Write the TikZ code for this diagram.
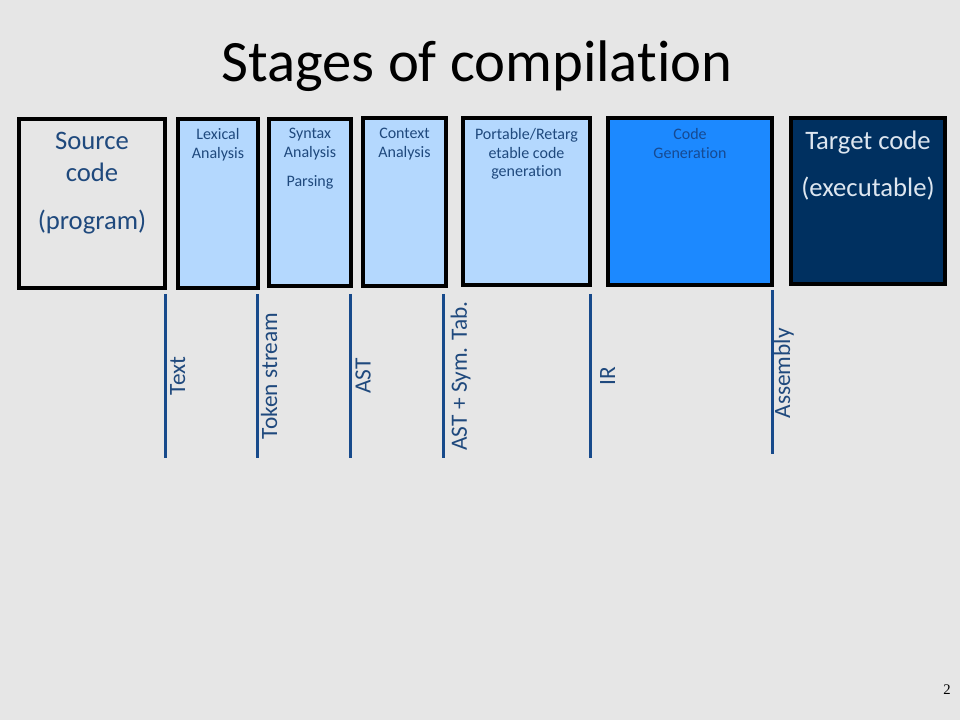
\documentclass[tikz,border=0pt]{standalone}
\usepackage{fontspec}
\setmainfont{Carlito}[RawFeature=-liga]
\newfontfamily\pagefont{Liberation Serif}
\usetikzlibrary{positioning}
\definecolor{slidebg}{HTML}{E6E6E6}
\definecolor{paleblue}{HTML}{B4D8FE}
\definecolor{brightblue}{HTML}{1C89FF}
\definecolor{navy}{HTML}{003060}
\definecolor{inkblue}{HTML}{1F497D}
\definecolor{genblue}{HTML}{164A92}
\definecolor{flowblue}{HTML}{174A8B}
\definecolor{paleink}{HTML}{DDE6F0}
\tikzset{
stage/.style={draw=black,line width=3pt,rectangle,inner sep=0pt,outer sep=0pt},
boxsize/.style 2 args={minimum width=#1*0.75pt,minimum height=#2*0.75pt},
bigtext/.style={inner sep=0pt,align=center,text=inkblue,font=\fontsize{20}{24}\selectfont},
smalltext/.style={inner sep=0pt,align=center,text=inkblue,font=\fontsize{12}{14}\selectfont},
flow/.style={draw=flowblue,line width=2.25pt},
flowlabel/.style={inner sep=0pt,rotate=90,anchor=base,text=inkblue,font=\fontsize{17.5}{21}\selectfont}
}
\begin{document}
\begin{tikzpicture}[x=0.75pt,y=-0.75pt]
\fill[slidebg] (0,0) rectangle (960,720);
\useasboundingbox (0,0) rectangle (960,720);

\node[font=\fontsize{44}{53}\selectfont,inner sep=0pt,anchor=base] (title) at (477,82) {Stages of compilation};

% stages
\node[stage,boxsize={146}{169}]                 (src)  at (92,203.5)  {};
\node[stage,fill=paleblue,boxsize={80}{169}]    (lex)  at (218,203.5) {};
\node[stage,fill=paleblue,boxsize={82}{167}]    (syn)  at (310,202.5) {};
\node[stage,fill=paleblue,boxsize={83}{168}]    (ctx)  at (404.5,202) {};
\node[stage,fill=paleblue,boxsize={127}{167}]   (port) at (526.5,201.5) {};
\node[stage,fill=brightblue,boxsize={164}{167}] (gen)  at (690,201.5) {};
\node[stage,fill=navy,boxsize={154}{166}]       (tgt)  at (868,201)   {};

\node[bigtext]             (srctext)  [below=9.75pt of src.north]  {Source\\code\\[12pt](program)};
\node[smalltext]           (lextext)  [below=6.75pt of lex.north]  {Lexical\\Analysis};
\node[smalltext]           (syntext)  [below=6.75pt of syn.north]  {Syntax\\Analysis\\[8pt]Parsing};
\node[smalltext]           (ctxtext)  [below=7.5pt of ctx.north]   {Context\\Analysis};
\node[smalltext]           (porttext) [below=7.5pt of port.north]  {Portable/Retarg\\etable code\\generation};
\node[smalltext,text=genblue] (gentext) [below=7.5pt of gen.north] {Code\\Generation};
\node[bigtext,text=paleink] (tgttext) [below=9.75pt of tgt.north]  {Target code\\[11pt](executable)};

% what flows between the stages
\coordinate (text-top)  at (165,294);
\coordinate (text-bot)  at (165,458);
\coordinate (tok-top)   at (257,294);
\coordinate (tok-bot)   at (257,458);
\coordinate (ast-top)   at (350.5,294);
\coordinate (ast-bot)   at (350.5,458);
\coordinate (sym-top)   at (443.5,294);
\coordinate (sym-bot)   at (443.5,458);
\coordinate (ir-top)    at (590,294);
\coordinate (ir-bot)    at (590,458);
\coordinate (asm-top)   at (772,290);
\coordinate (asm-bot)   at (772,454);

\draw[flow] (text-top) -- node[xshift=15pt,flowlabel]   (textlabel) {Text}            (text-bot);
\draw[flow] (tok-top)  -- node[xshift=15pt,flowlabel]   (toklabel)  {Token stream}    (tok-bot);
\draw[flow] (ast-top)  -- node[xshift=15pt,flowlabel]   (astlabel)  {AST}             (ast-bot);
\draw[flow] (sym-top)  -- node[xshift=17.5pt,flowlabel] (symlabel)  {AST + Sym. Tab.} (sym-bot);
\draw[flow] (ir-top)   -- node[xshift=18.75pt,flowlabel](irlabel)   {IR}              (ir-bot);
\draw[flow] (asm-top)  -- node[xshift=13.5pt,yshift=-1pt,flowlabel] (asmlabel) {Assembly} (asm-bot);

\node[font=\pagefont\fontsize{11}{13}\selectfont,inner sep=0pt,anchor=base] (pagenum) at (947,694) {2};
\end{tikzpicture}
\end{document}
